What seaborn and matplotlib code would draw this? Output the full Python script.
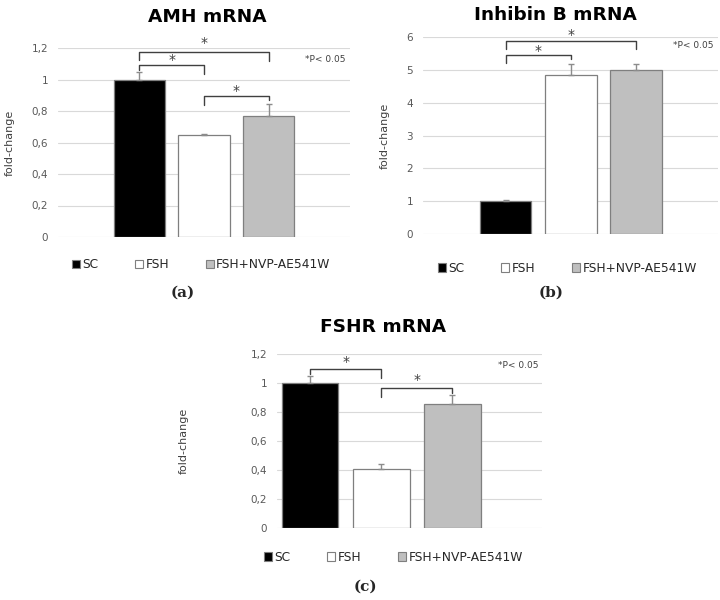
import numpy as np
import pandas as pd
import matplotlib
matplotlib.use("Agg")
import matplotlib.pyplot as plt
import seaborn as sns
from matplotlib.patches import Patch
from matplotlib.ticker import FuncFormatter

# groups and colours
groups = ["SC", "FSH", "FSH+NVP-AE541W"]
colors = {"SC": "#000000", "FSH": "#ffffff", "FSH+NVP-AE541W": "#bfbfbf"}

# fold-change means and (upper) error bars
amh_mean = [1.0, 0.645, 0.77]
amh_err = [0.05, 0.01, 0.075]
inh_mean = [1.0, 4.85, 5.0]
inh_err = [0.05, 0.33, 0.17]
fshr_mean = [1.0, 0.41, 0.855]
fshr_err = [0.05, 0.03, 0.06]

# significance brackets: (left bar, right bar, top, left end, right end, star)
amh_brackets = [(0, 2, 1.177, 1.124, 1.117, 1.234),
                (0, 1, 1.092, 1.06, 1.033, 1.124),
                (1, 2, 0.895, 0.838, 0.87, 0.927)]
inh_brackets = [(0, 2, 5.89, 5.62, 5.62, 6.06),
                (0, 1, 5.45, 5.2, 5.32, 5.57)]
fshr_brackets = [(0, 1, 1.094, 1.06, 1.032, 1.147),
                 (1, 2, 0.963, 0.905, 0.933, 1.02)]

sns.set_theme(style="white")
plt.rcParams["font.family"] = ["DejaVu Sans"]

fig = plt.figure(figsize=(7.2, 6), dpi=100)


def comma(v, pos):
    return ("%g" % v).replace(".", ",")


def panel(rect, means, errs, brackets, ymax, ystep, pval_y, xlim, title, title_xy,
          label, label_xy, ylab_x, legend_xy):
    ax = fig.add_axes(rect)
    df = pd.DataFrame({"group": groups, "value": means})
    sns.barplot(data=df, x="group", y="value", hue="group", palette=colors,
                order=groups, hue_order=groups, legend=False, width=0.79,
                errorbar=None, ax=ax, edgecolor="#7f7f7f", linewidth=0.9, zorder=2)
    x = np.arange(len(groups))
    ax.errorbar(x, means, yerr=[np.zeros(len(errs)), errs], fmt="none",
                ecolor="#8c8c8c", elinewidth=1.0, capsize=2.5, capthick=1.0, zorder=3)
    ax.set_ylim(0, ymax)
    ax.set_xlim(*xlim)
    ax.set_yticks(np.arange(0, ymax + ystep / 2, ystep))
    ax.yaxis.set_major_formatter(FuncFormatter(comma))
    ax.grid(axis="y", color="#d9d9d9", linewidth=0.8, zorder=0)
    ax.set_axisbelow(True)
    for s in ax.spines.values():
        s.set_visible(False)
    ax.tick_params(axis="y", length=0, pad=7, labelsize=7.5, labelcolor="#595959")
    ax.set_xticks([])
    ax.set_xlabel("")
    ax.set_ylabel("")
    fig.text(ylab_x, rect[1] + rect[3] / 2, "fold-change", rotation=90,
             ha="center", va="center", fontsize=8, color="#404040")

    for i, j, top, yl, yr, ys in brackets:
        ax.plot([i, i, j, j], [yl, top, top, yr], color="#404040", lw=1.0,
                clip_on=False, zorder=4)
        ax.text((i + j) / 2, ys, "*", ha="center", va="center", fontsize=10,
                color="#404040", clip_on=False)
    ax.text(0.985, pval_y, "*P< 0.05", transform=ax.get_yaxis_transform(),
            ha="right", va="center", fontsize=6.5, color="#404040")

    handles = [Patch(facecolor=colors[g], edgecolor="#7f7f7f", linewidth=0.8,
                     label=g) for g in groups]
    ax.legend(handles=handles, ncol=3, loc="center", bbox_to_anchor=legend_xy,
              frameon=False, fontsize=8.8, handlelength=0.65, handleheight=0.7,
              handletextpad=0.2, columnspacing=3.0, borderaxespad=0,
              borderpad=0)

    fig.text(title_xy[0], title_xy[1], title, ha="center", va="center",
             fontsize=13.3, fontweight="bold", color="#000000")
    fig.text(label_xy[0], label_xy[1], label, ha="center", va="center",
             fontsize=11, fontweight="bold", family="DejaVu Serif")
    return ax


W, H = 720.0, 600.0

panel([58 / W, 1 - 237 / H, 292 / W, 189 / H], amh_mean, amh_err, amh_brackets,
      1.2, 0.2, 1.124, (-1.26, 3.26), "AMH mRNA", (207 / W, 1 - 17 / H),
      "(a)", (183 / W, 1 - 293 / H), 10 / W, (0.49, -0.148))

panel([423 / W, 1 - 234 / H, 295 / W, 197 / H], inh_mean, inh_err, inh_brackets,
      6, 1, 5.73, (-1.27, 3.26), "Inhibin B mRNA", (555 / W, 1 - 15 / H),
      "(b)", (551 / W, 1 - 293 / H), 385 / W, (0.49, -0.173))

panel([277 / W, 1 - 528 / H, 265 / W, 174 / H], fshr_mean, fshr_err, fshr_brackets,
      1.2, 0.2, 1.124, (-0.47, 3.26), "FSHR mRNA", (383 / W, 1 - 327 / H),
      "(c)", (365 / W, 1 - 587 / H), 184 / W, (0.44, -0.167))

fig.savefig("out.png", dpi=100)
